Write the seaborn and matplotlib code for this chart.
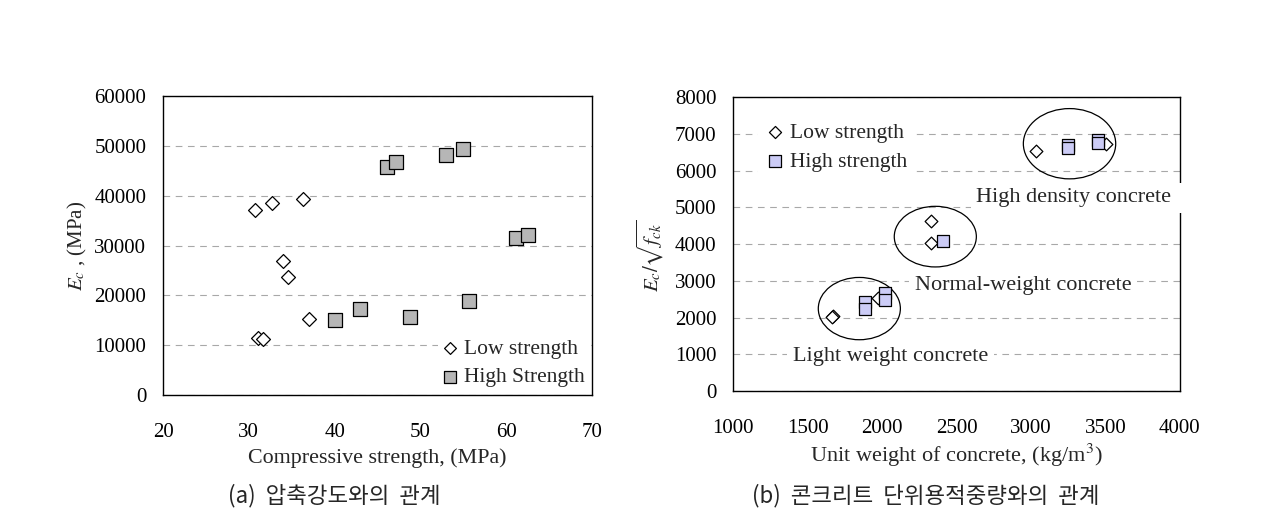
import numpy as np
import pandas as pd
import seaborn as sns
import matplotlib.pyplot as plt
from matplotlib.patches import Ellipse

sns.set_theme(style="white")
SERIF = ['Liberation Serif', 'DejaVu Serif']
KOR = ['Noto Sans CJK KR', 'DejaVu Sans']
plt.rcParams['font.family'] = SERIF
plt.rcParams['mathtext.fontset'] = 'stix'

# (a) Ec vs compressive strength
low_fc = [30.7, 32.7, 36.3, 34.0, 34.6, 37.0, 31.1, 31.6]
low_ec = [37100, 38500, 39300, 26900, 23700, 15300, 11500, 11300]
high_fc = [46.1, 47.1, 53.0, 55.0, 61.2, 62.5, 55.7, 40.1, 43.0, 48.8]
high_ec = [45700, 46700, 48100, 49300, 31600, 32100, 18900, 15100, 17300, 15700]

# (b) Ec/sqrt(fck) vs unit weight
low_w = [3034, 2327, 2327, 1674, 1665, 1975, 3507]
low_r = [6530, 4630, 4040, 2050, 2020, 2545, 6710]
high_w = [3248, 3248, 3451, 3451, 2412, 1886, 1886, 2022, 2022]
high_r = [6700, 6620, 6820, 6740, 4076, 2420, 2230, 2680, 2470]

# groups: (center x, center y, width, height, label, label x, label y)
groups = [
    (1848, 2246, 551, 1694, 'Light weight concrete', 1402, 930),
    (2358, 4203, 551, 1649, 'Normal-weight concrete', 2220, 2880),
    (3259, 6730, 620, 1911, 'High density concrete ', 2633, 5260),
]

fig = plt.figure(figsize=(12.66, 5.12), dpi=100)
ax1 = fig.add_axes([0.1288, 0.2285, 0.3388, 0.584])
ax2 = fig.add_axes([0.579, 0.236, 0.353, 0.5745])

fs = 15

sns.scatterplot(x=low_fc, y=low_ec, ax=ax1, marker='D', s=50, color='white',
                edgecolor='black', linewidth=0.9, label='Low strength', zorder=3)
sns.scatterplot(x=high_fc, y=high_ec, ax=ax1, marker='s', s=95, color='#b6b6b6',
                edgecolor='black', linewidth=0.9, label='High Strength', zorder=3)

sns.scatterplot(x=low_w, y=low_r, ax=ax2, marker='D', s=42, color='white',
                edgecolor='black', linewidth=0.9, label='Low strength', zorder=3)
sns.scatterplot(x=high_w, y=high_r, ax=ax2, marker='s', s=72, color='#ccccf6',
                edgecolor='black', linewidth=0.9, label='High strength', zorder=3)

for cx, cy, w, h, txt, tx, ty in groups:
    ax2.add_patch(Ellipse((cx, cy), w, h, facecolor='none', edgecolor='black',
                          linewidth=0.9, zorder=2))
    ax2.text(tx, ty, txt, fontsize=16, va='center', ha='left', zorder=5,
             clip_on=False, family=SERIF,
             bbox=dict(facecolor='white', edgecolor='none', pad=4))

ax1.set_xlim(20, 70)
ax1.set_ylim(0, 60000)
ax1.set_xticks(np.arange(20, 71, 10))
ax1.set_yticks(np.arange(0, 60001, 10000))
ax1.set_xlabel('Compressive strength, (MPa)', fontsize=15.8, labelpad=5)
ax1.set_ylabel(r'$E_c$ , (MPa)', fontsize=fs, labelpad=4)

ax2.set_xlim(1000, 4000)
ax2.set_ylim(0, 8000)
ax2.set_xticks(np.arange(1000, 4001, 500))
ax2.set_yticks(np.arange(0, 8001, 1000))
ax2.set_xlabel(r'Unit weight of concrete, (kg/m$^3$)', fontsize=16, labelpad=3)
ax2.set_ylabel(r'$E_c/\sqrt{f_{ck}}$', fontsize=fs)
ax2.yaxis.set_label_coords(-0.15, 0.46)

for ax in (ax1, ax2):
    ax.tick_params(axis='both', direction='in', length=5, width=0.8,
                   colors='black', labelsize=fs)
    ax.tick_params(axis='x', pad=20)
    ax.tick_params(axis='y', pad=12)
    ax.set_xticklabels([f'{int(v)}' for v in ax.get_xticks()], family=SERIF)
    ax.set_yticklabels([f'{int(v)}' for v in ax.get_yticks()], family=SERIF)
    for sp in ax.spines.values():
        sp.set_color('black')
        sp.set_linewidth(1.0)
    ax.yaxis.grid(True, linestyle=(0, (6, 5)), color='#a8a8a8', linewidth=0.8)
    ax.set_axisbelow(True)

ax1.legend(loc='lower right', fontsize=15.5, frameon=True, framealpha=1,
           edgecolor='none', handletextpad=0.25, handlelength=0.8,
           borderpad=0.15, borderaxespad=0.2, markerscale=0.85,
           labelspacing=0.4)
ax2.legend(loc='upper left', bbox_to_anchor=(0.022, 0.993), fontsize=15.5,
           frameon=True, framealpha=1, edgecolor='none', handletextpad=0.3,
           handlelength=0.8, borderaxespad=0.7, markerscale=0.95,
           labelspacing=0.4)

fig.text(0.1801, 0.033, '(a)  압축강도와의  관계', fontsize=16.1, ha='left',
         va='center', family=KOR)
fig.text(0.594, 0.033, '(b)  콘크리트  단위용적중량와의  관계', fontsize=16.1,
         ha='left', va='center', family=KOR)

fig.savefig('out.png', dpi=100)
